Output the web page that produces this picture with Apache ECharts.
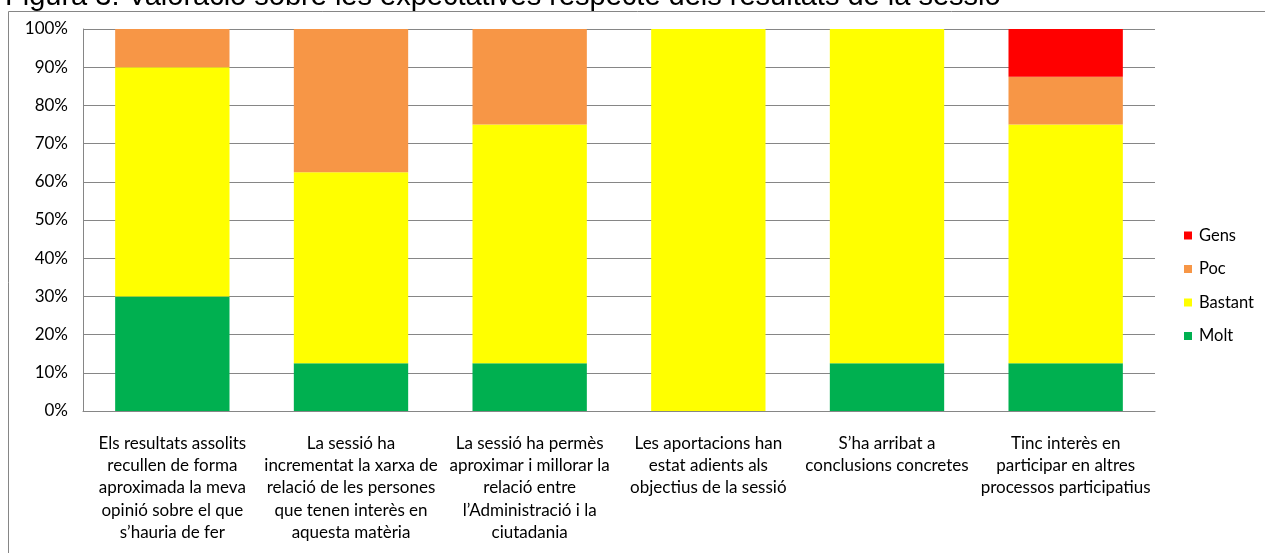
<!DOCTYPE html>
<html>
<head>
<meta charset="utf-8">
<title>Valoració</title>
<script src="https://cdn.jsdelivr.net/npm/echarts@6/dist/echarts.min.js"></script>
<style>
  html, body { margin: 0; padding: 0; background: #fff; }
  #chart { width: 1265px; height: 553px; }
</style>
</head>
<body>
<div id="chart"></div>
<script>
// categories (line breaks as in the original figure)
const categories = [
  'Els resultats assolits\nrecullen de forma\naproximada la meva\nopinió sobre el que\ns’hauria de fer',
  'La sessió ha\nincrementat la xarxa de\nrelació de les persones\nque tenen interès en\naquesta matèria',
  'La sessió ha permès\naproximar i millorar la\nrelació entre\nl’Administració i la\nciutadania',
  'Les aportacions han\nestat adients als\nobjectius de la sessió',
  'S’ha arribat a\nconclusions concretes',
  'Tinc interès en\nparticipar en altres\nprocessos participatius'
]
// percentages per answer
const molt = [30, 12.5, 12.5, 0, 12.5, 12.5]
const bastant = [60, 50, 62.5, 100, 87.5, 62.5]
const poc = [10, 37.5, 25, 0, 0, 12.5]
const gens = [0, 0, 0, 0, 0, 12.5]
const yTicks = [0, 10, 20, 30, 40, 50, 60, 70, 80, 90, 100]

const labelFont = 'Lato, "Open Sans", sans-serif'
const myChart = echarts.init(document.getElementById('chart'))

const mkSeries = (name, data, color) => ({
  name: name,
  type: 'bar',
  stack: 'total',
  barWidth: '64%',
  itemStyle: { color: color },
  emphasis: { disabled: true },
  data: data
})

const option = {
  animation: false,
  title: {
    text: 'Figura 3: Valoració sobre les expectatives respecte dels resultats de la sessió',
    left: 0,
    top: -23,
    textStyle: {
      fontFamily: '"Liberation Sans", Arial, sans-serif',
      fontSize: 29,
      fontWeight: 'normal',
      color: '#000'
    }
  },
  graphic: [{
    type: 'rect',
    left: 6,
    top: 9,
    shape: { width: 1300, height: 600 },
    style: { fill: 'none', stroke: '#868686', lineWidth: 1 },
    z: -1
  }],
  legend: {
    orient: 'vertical',
    left: 1179,
    top: 222,
    itemWidth: 8,
    itemHeight: 8,
    itemGap: 16.5,
    icon: 'rect',
    data: ['Gens', 'Poc', 'Bastant', 'Molt'],
    textStyle: { fontFamily: labelFont, fontSize: 16.5, color: '#000', padding: [0, 0, 0, 2] }
  },
  grid: {
    left: 83,
    right: 110,
    top: 29,
    bottom: 142
  },
  xAxis: {
    type: 'category',
    data: categories,
    axisLine: { lineStyle: { color: '#868686' } },
    axisTick: { show: false },
    axisLabel: {
      interval: 0,
      margin: 21,
      fontFamily: labelFont,
      fontSize: 17,
      lineHeight: 22.3,
      color: '#000',
      align: 'center'
    }
  },
  yAxis: {
    type: 'value',
    min: yTicks[0],
    max: yTicks[yTicks.length - 1],
    interval: 10,
    axisLine: { show: true, lineStyle: { color: '#868686' } },
    axisTick: { show: false },
    splitLine: { lineStyle: { color: '#868686' } },
    axisLabel: {
      margin: 15,
      fontFamily: labelFont,
      fontSize: 17,
      color: '#000',
      formatter: '{value}%'
    }
  },
  series: [
    mkSeries('Molt', molt, '#00B050'),
    mkSeries('Bastant', bastant, '#FFFF00'),
    mkSeries('Poc', poc, '#F79646'),
    mkSeries('Gens', gens, '#FF0000')
  ]
}
myChart.setOption(option)
</script>
</body>
</html>
